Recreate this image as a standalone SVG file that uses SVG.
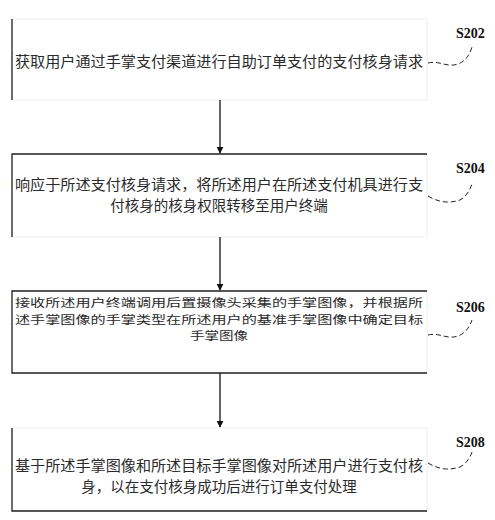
<svg xmlns="http://www.w3.org/2000/svg" width="495" height="520" viewBox="0 0 495 520">
<defs>
<style>
.t{font-family:"Noto Sans CJK SC","Liberation Serif",serif;font-size:14.5px;fill:#2a2a2a;text-anchor:middle}
.t3{font-size:11.5px}
.lbl{font-family:"Liberation Serif",serif;font-size:14px;fill:#111;font-weight:bold}
.faint{fill:#fff;stroke:#eeeeee;stroke-width:1}
.edge{stroke:#222;stroke-width:1.3;fill:none}
.conn{stroke:#111;stroke-width:1.3;fill:none}
.lead{stroke:#222;stroke-width:1;fill:none;stroke-dasharray:5,3}
</style>
<marker id="ah" viewBox="0 0 10 10" refX="9" refY="5" markerWidth="7" markerHeight="7" orient="auto" markerUnits="userSpaceOnUse">
<path d="M0,0 L10,5 L0,10 z" fill="#111"/>
</marker>
</defs>
<rect width="495" height="520" fill="#fff"/>
<g id="n1">
<rect class="faint" x="12" y="19" width="415" height="81"/>
<line class="edge" x1="12" y1="19" x2="12" y2="100"/>
<text class="t" x="219" y="67" textLength="408" lengthAdjust="spacingAndGlyphs">获取用户通过手掌支付渠道进行自助订单支付的支付核身请求</text>
</g>
<g id="n2">
<rect class="faint" x="12" y="154" width="415" height="83"/>
<path class="edge" d="M12,237 V154 H427"/>
<text class="t" x="219" y="190" textLength="408" lengthAdjust="spacingAndGlyphs">响应于所述支付核身请求，将所述用户在所述支付机具进行支</text>
<text class="t" x="219" y="211">付核身的核身权限转移至用户终端</text>
</g>
<g id="n3">
<rect class="faint" x="12" y="291" width="415" height="82"/>
<path class="edge" d="M427,291 H12 V373 H427"/>
<text class="t t3" x="219" y="307" textLength="408" lengthAdjust="spacingAndGlyphs">接收所述用户终端调用后置摄像头采集的手掌图像，并根据所</text>
<text class="t t3" x="219" y="323.5" textLength="408" lengthAdjust="spacingAndGlyphs">述手掌图像的手掌类型在所述用户的基准手掌图像中确定目标</text>
<text class="t t3" x="219" y="340" textLength="58" lengthAdjust="spacingAndGlyphs">手掌图像</text>
</g>
<g id="n4">
<rect class="faint" x="12" y="428" width="415" height="83"/>
<path class="edge" d="M12,428 V511 H427"/>
<text class="t" x="219" y="471" textLength="408" lengthAdjust="spacingAndGlyphs">基于所述手掌图像和所述目标手掌图像对所述用户进行支付核</text>
<text class="t" x="219" y="492">身，以在支付核身成功后进行订单支付处理</text>
</g>
<g id="labels">
<text class="lbl" x="456" y="38">S202</text>
<text class="lbl" x="456" y="173">S204</text>
<text class="lbl" x="456" y="312">S206</text>
<text class="lbl" x="456" y="447">S208</text>
</g>
<g id="connectors">
<line class="conn" x1="220" y1="100" x2="220" y2="153" marker-end="url(#ah)"/>
<line class="conn" x1="220" y1="237" x2="220" y2="290" marker-end="url(#ah)"/>
<line class="conn" x1="220" y1="373" x2="220" y2="427" marker-end="url(#ah)"/>
<path class="lead" d="M428,63 C440,60 446,68 458,64 C466,61 470,54 472,47"/>
<path class="lead" d="M428,196 C438,202 448,204 460,200 C466,197 470,190 472,184"/>
<path class="lead" d="M428,335 C440,332 446,340 458,336 C466,333 470,326 472,320"/>
<path class="lead" d="M428,463 C438,469 448,471 460,467 C466,464 470,458 472,452"/>
</g>
</svg>
